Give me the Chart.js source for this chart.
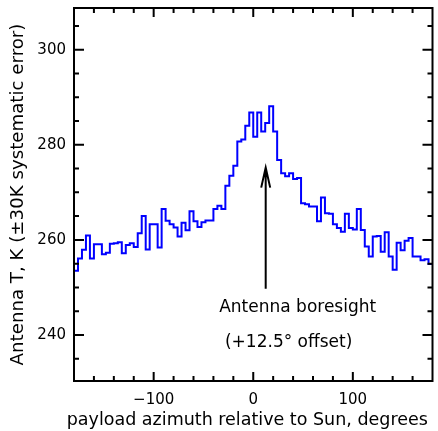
<!DOCTYPE html>
<html>
<head>
<meta charset="utf-8">
<script src="https://cdn.jsdelivr.net/npm/chart.js@4.4.1/dist/chart.umd.min.js"></script>
<style>
  html, body { margin: 0; padding: 0; background: #fff; }
  #wrap { width: 438px; height: 431px; }
</style>
</head>
<body>
<div id="wrap"><canvas id="myChart"></canvas></div>
<script>
// 4 degree azimuth bins, left edge of the first bin at -180
const binStart = -180
const binWidth = 4
const binEnd = 180

// antenna temperature per bin, K
const temps = [
  253.5, 256.1, 257.9, 260.9, 256.1, 259.1, 259.1, 257.0, 257.3, 259.2,
  259.3, 259.5, 257.2, 258.9, 259.3, 258.5, 261.4, 265.0, 258.0, 263.3,
  263.3, 258.4, 266.5, 264.0, 263.3, 262.6, 260.7, 263.6, 262.0, 266.0,
  263.9, 262.7, 263.7, 264.1, 264.1, 266.5, 267.2, 266.5, 271.4, 273.5,
  275.6, 280.7, 281.1, 284.0, 286.8, 281.7, 286.8, 282.8, 284.6, 288.1,
  282.8, 276.8, 274.0, 273.4, 274.0, 272.8, 273.0, 267.7, 267.5, 267.0,
  267.0, 263.9, 268.9, 265.6, 265.5, 263.3, 262.5, 261.7, 265.5, 262.5,
  262.2, 266.5, 262.1, 258.6, 256.5, 260.7, 260.8, 257.5, 261.6, 256.5,
  253.7, 259.4, 257.8, 259.8, 260.4, 256.5, 256.5, 255.7, 255.9, 254.9
]

const xTicks = [-100, 0, 100]
const xMinor = [-160, -140, -120, -80, -60, -40, -20, 20, 40, 60, 80, 120, 140, 160]
const yTicks = [240, 260, 280, 300]
const yMinor = [235, 245, 250, 255, 265, 270, 275, 285, 290, 295, 305]

const boresight = 12.5
const xTitle = 'payload azimuth relative to Sun, degrees'

const tickFont = { family: '"DejaVu Sans"', size: 15 }

const points = temps.map((t, i) => ({ x: binStart + i * binWidth, y: t }))
points.push({ x: binEnd, y: temps[temps.length - 1] })

// box, inward ticks, arrow and notes
const frame = {
  id: 'frame',
  afterDraw(chart) {
    const ctx = chart.ctx
    const { left, right, top, bottom } = chart.chartArea
    const xs = chart.scales.x
    const ys = chart.scales.y
    ctx.save()
    ctx.strokeStyle = '#000'
    ctx.lineWidth = 2
    ctx.beginPath()
    const tick = (vals, len) => {
      vals.forEach(v => {
        const px = xs.getPixelForValue(v)
        ctx.moveTo(px, bottom); ctx.lineTo(px, bottom - len)
        ctx.moveTo(px, top); ctx.lineTo(px, top + len)
      })
    }
    const ytick = (vals, len) => {
      vals.forEach(v => {
        const py = ys.getPixelForValue(v)
        ctx.moveTo(left, py); ctx.lineTo(left + len, py)
        ctx.moveTo(right, py); ctx.lineTo(right - len, py)
      })
    }
    tick(xTicks, 9)
    tick(xMinor, 5)
    ytick(yTicks, 10)
    ytick(yMinor, 5)
    ctx.stroke()
    ctx.strokeRect(left, top, right - left, bottom - top)

    // arrow
    const ax = xs.getPixelForValue(boresight)
    const tipY = ys.getPixelForValue(275.2)
    ctx.beginPath()
    ctx.moveTo(ax, ys.getPixelForValue(249.7))
    ctx.lineTo(ax, tipY)
    ctx.moveTo(ax - 4.5, tipY + 20)
    ctx.lineTo(ax, tipY)
    ctx.lineTo(ax + 4.5, tipY + 20)
    ctx.stroke()

    ctx.fillStyle = '#000'
    ctx.font = '17px "DejaVu Sans"'
    ctx.textAlign = 'left'
    ctx.textBaseline = 'alphabetic'
    ctx.fillText('Antenna boresight', xs.getPixelForValue(-34.2), ys.getPixelForValue(244.9))
    ctx.fillText('(+12.5\u00b0 offset)', xs.getPixelForValue(-28.4), ys.getPixelForValue(237.5))

    // x axis title, centred a little left of the plot centre as in the original
    ctx.font = '17.5px "DejaVu Sans"'
    ctx.textAlign = 'center'
    ctx.fillText(xTitle, xs.getPixelForValue(-6), bottom + 44)
    ctx.restore()
  }
}

const ctx = document.getElementById('myChart')
const myChart = new Chart(ctx, {
  type: 'line',
  data: {
    datasets: [{
      data: points,
      stepped: true,
      borderColor: '#0000ff',
      borderWidth: 2,
      pointRadius: 0,
      fill: false,
    }]
  },
  options: {
    animation: false,
    responsive: true,
    maintainAspectRatio: false,
    layout: { padding: { top: 8, right: 5.5, left: 0, bottom: 0 } },
    scales: {
      x: {
        type: 'linear',
        min: -180,
        max: 180,
        afterBuildTicks: s => { s.ticks = xTicks.map(v => ({ value: v })) },
        afterFit: s => { s.height = 50; s.paddingLeft = 0; s.paddingRight = 0 },
        grid: { display: false, drawTicks: false },
        border: { display: false },
        ticks: {
          font: tickFont,
          color: '#000',
          padding: 10,
          maxRotation: 0,
          autoSkip: false,
          callback: v => String(v).replace('-', '\u2212'),
        },
        title: { display: false }
      },
      y: {
        type: 'linear',
        min: 230.3,
        max: 308.8,
        afterBuildTicks: s => { s.ticks = yTicks.map(v => ({ value: v })) },
        afterFit: s => { s.width = 74; s.paddingTop = 0; s.paddingBottom = 0 },
        grid: { display: false, drawTicks: false },
        border: { display: false },
        ticks: {
          font: tickFont,
          color: '#000',
          padding: 8,
        },
        title: {
          display: true,
          text: 'Antenna T, K (\u00b130K systematic error)',
          font: { family: '"DejaVu Sans"', size: 18.2 },
          color: '#000',
          padding: { top: 7, bottom: 0 },
        }
      }
    },
    plugins: {
      legend: { display: false },
      tooltip: { enabled: false },
    }
  },
  plugins: [frame]
})
</script>
</body>
</html>
